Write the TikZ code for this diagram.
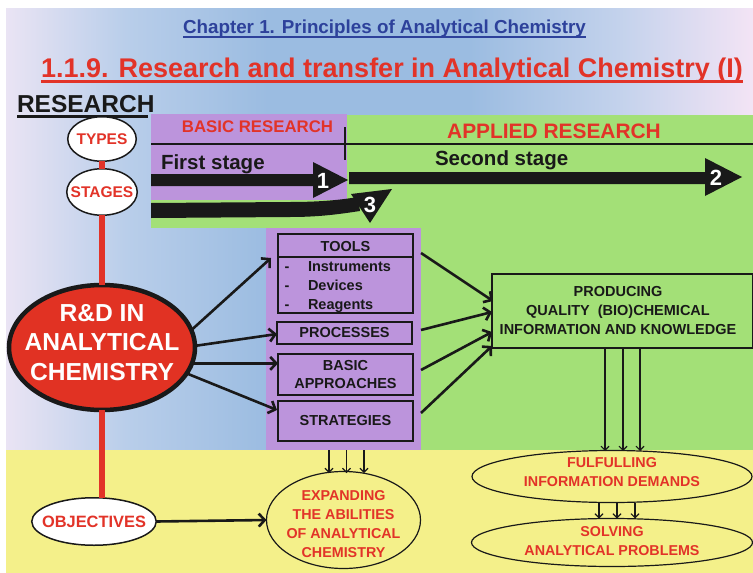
\documentclass[tikz,border=0pt]{standalone}
\usepackage{fontspec}
\setmainfont{Liberation Sans}
\usetikzlibrary{shapes.geometric,arrows.meta,calc}
\definecolor{myred}{RGB}{226,51,40}
\definecolor{rdred}{RGB}{225,50,35}
\definecolor{chapblue}{RGB}{45,65,155}
\definecolor{grn}{RGB}{163,224,119}
\definecolor{pur}{RGB}{188,148,220}
\definecolor{yel}{RGB}{244,240,138}
\definecolor{bgL}{RGB}{234,228,244}
\definecolor{bgA}{RGB}{185,206,234}
\definecolor{bgM}{RGB}{155,188,225}
\definecolor{bgB}{RGB}{195,210,236}
\definecolor{bgR}{RGB}{243,228,245}
\definecolor{ink}{RGB}{25,25,25}
\pgfdeclarehorizontalshading{bgshade}{100bp}{color(0bp)=(bgL); color(25bp)=(bgL); color(33bp)=(bgA); color(42.5bp)=(bgM); color(56bp)=(bgM); color(66bp)=(bgB); color(75bp)=(bgR); color(100bp)=(bgR)}
\begin{document}
\begin{tikzpicture}[x=1pt,y=-1pt,
  txt/.style={inner sep=0pt, outer sep=0pt},
  ell/.style={ellipse, draw=ink, inner sep=0pt, outer sep=0pt},
  ellred/.style={ell, line width=1.5pt, fill=white, text=myred, font=\bfseries\fontsize{15.5}{18}\selectfont},
  ellyel/.style={ell, line width=1.2pt, fill=yel},
  box/.style={rectangle, draw=ink, line width=1.3pt, inner sep=0pt, outer sep=0pt, align=center, text=ink, font=\bfseries\fontsize{14.5}{18}\selectfont},
  boxtxt/.style={txt, text=ink, font=\bfseries\fontsize{14.5}{19}\selectfont},
  redtxt/.style={txt, align=center, text=myred, font=\bfseries\fontsize{14.3}{19}\selectfont},
  numtxt/.style={txt, text=white, font=\bfseries\fontsize{22}{24}\selectfont},
  thickarr/.style={draw=ink, line width=2.6pt, -{Straight Barb[length=6pt,width=13pt]}},
  thinarr/.style={draw=ink, line width=1.1pt, -{Straight Barb[length=4pt,width=8pt]}},
  redline/.style={draw=myred, line width=6pt}
]
\useasboundingbox (0,0) rectangle (753,573);
\fill[white] (0,0) rectangle (753,573);
\shade[shading=bgshade] (6,8) rectangle (753,450);
\fill[yel] (6,450) rectangle (753,573);
\fill[grn] (151,115) rectangle (753,228);
\fill[grn] (347,115) rectangle (753,450);
\node[txt, fill=pur, minimum width=196pt, minimum height=86pt] (basicbg) at (249,157) {};
\node[txt, fill=pur, minimum width=155pt, minimum height=222pt] (toolsbg) at (343.5,339) {};
\draw[ink, line width=1.2pt] (151,144) -- (753,144);
\draw[ink, line width=1.2pt] (345,127) -- (345,160);

% titles
\node[txt, anchor=base, text=chapblue, font=\bfseries\fontsize{18.8}{22}\selectfont] (chap) at (384.5,33) {Chapter 1. Principles of Analytical Chemistry};
\draw[chapblue, line width=2pt] ($(chap.base west)+(0,3.5)$) -- ($(chap.base east)+(0,3.5)$);
\node[txt, anchor=base, text=myred, font=\bfseries\fontsize{27}{30}\selectfont] (title) at (392,77) {1.1.9. Research and transfer in Analytical Chemistry (I)};
\draw[myred, line width=2.5pt] ($(title.base west)+(0,4.5)$) -- ($(title.base east)+(0,4.5)$);
\node[txt, anchor=base west, text=ink, font=\bfseries\fontsize{24.5}{28}\selectfont] (research) at (17,112) {RESEARCH};
\draw[ink, line width=3pt] ($(research.base west)+(0,4.5)$) -- ($(research.base east)+(-6,4.5)$);

% stage labels
\node[txt, anchor=base, text=myred, font=\bfseries\fontsize{16.8}{20}\selectfont] (basiclbl) at (257.5,132) {BASIC RESEARCH};
\node[txt, anchor=base, text=myred, font=\bfseries\fontsize{20.9}{24}\selectfont] (appliedlbl) at (554,138) {APPLIED RESEARCH};
\node[txt, anchor=base west, text=ink, font=\bfseries\fontsize{20.5}{24}\selectfont] (first) at (161,169) {First stage};
\node[txt, anchor=base west, text=ink, font=\bfseries\fontsize{20.5}{24}\selectfont] (second) at (435,165) {Second stage};

% big arrows
\fill[ink] (151,174) -- (313,174) -- (313,162) -- (348,180) -- (313,198) -- (313,186) -- (151,186) -- cycle;
\fill[ink] (349,172) -- (705,172) -- (705,158) -- (742,177) -- (705,196) -- (705,184) -- (349,184) -- cycle;
\fill[ink] (151,203) -- (290,202) .. controls (320,202) and (340,200) .. (358,197) -- (360,211) .. controls (340,214) and (320,217) .. (290,217) -- (151,218) -- cycle;
\fill[ink] (351,194) -- (392,189) -- (370,223) -- cycle;
\node[numtxt] (n1) at (323,181) {1};
\node[numtxt] (n2) at (716,178) {2};
\node[numtxt] (n3) at (370,205) {3};

% left column
\node[ellred, minimum width=68.5pt, minimum height=44.5pt] (types) at (102,139) {\makebox[0pt]{TYPES}};
\node[ellred, minimum width=70.5pt, minimum height=46.5pt] (stages) at (102,192) {\makebox[0pt]{STAGES}};
\node[ell, line width=4.5pt, fill=rdred, minimum width=186pt, minimum height=125pt] (rd) at (102,347.5) {};
\node[txt, align=center, text=white, font=\bfseries\fontsize{24.6}{29.5}\selectfont] (rdtxt) at (102,342.5) {R\&D IN\\ANALYTICAL\\CHEMISTRY};
\node[ellred, minimum width=124.5pt, minimum height=47.5pt, font=\bfseries\fontsize{16.4}{19}\selectfont] (obj) at (94,521.5) {\makebox[0pt]{OBJECTIVES}};
\draw[redline] (types.south) -- (stages.north);
\draw[redline] (stages.south) -- (rd.north);
\draw[redline] (rd.south) -- (rd.south |- obj.north);

% tool boxes
\node[box, minimum width=135pt, minimum height=79pt] (tools) at (345.5,273.5) {};
\node[boxtxt] (toolst) at (345.5,246.5) {TOOLS};
\draw[ink, line width=1.3pt] ($(tools.north west)+(0,23)$) -- ($(tools.north east)+(0,23)$);
\node[boxtxt, anchor=base] (d1) at (287,271) {-};
\node[boxtxt, anchor=base] (d2) at (287,290) {-};
\node[boxtxt, anchor=base] (d3) at (287,309) {-};
\node[boxtxt, anchor=base west] (li1) at (308,271) {Instruments};
\node[boxtxt, anchor=base west] (li2) at (308,290) {Devices};
\node[boxtxt, anchor=base west] (li3) at (308,309) {Reagents};
\node[box, minimum width=135pt, minimum height=22pt] (proc) at (344.5,333) {PROCESSES};
\node[box, minimum width=135pt, minimum height=41pt] (basic) at (345.5,374.5) {BASIC\\APPROACHES};
\node[box, minimum width=135pt, minimum height=40pt] (strat) at (345.5,421) {STRATEGIES};

% producing
\node[box, minimum width=261pt, minimum height=74pt] (prod) at (622.5,311) {};
\node[boxtxt, align=center] (prodtxt) at (618,311) {PRODUCING\\QUALITY~~(BIO)CHEMICAL\\INFORMATION AND KNOWLEDGE};

% bottom ellipses
\node[ellyel, minimum width=154pt, minimum height=97pt] (expand) at (343.5,520) {};
\node[redtxt] (exptxt) at (343.5,524.5) {EXPANDING\\THE ABILITIES\\OF ANALYTICAL\\CHEMISTRY};
\node[ellyel, minimum width=280pt, minimum height=52pt] (fulfil) at (612,476.5) {};
\node[redtxt] (fultxt) at (612,472.5) {FULFULLING\\INFORMATION DEMANDS};
\node[ellyel, minimum width=281pt, minimum height=48pt] (solve) at (612,542.5) {};
\node[redtxt] (soltxt) at (612,541) {SOLVING\\ANALYTICAL PROBLEMS};

% arrows from R&D
\draw[thickarr] (rd.11) -- ($(tools.west)+(-7,-15.5)$);
\draw[thickarr] (rd.1) -- ($(proc.west)+(0,1)$);
\draw[thickarr] (rd.-10) -- (rd.-10 -| basic.west);
\draw[thickarr] (rd.-17) -- ($(strat.west)+(-1,-11)$);
% arrows to producing
\draw[thickarr] ($(tools.east)+(8,-20.5)$) -- ($(prod.west)+(1,-10)$);
\draw[thickarr] ($(proc.east)+(9,-3)$) -- ($(prod.west)+(0,1)$);
\draw[thickarr] ($(basic.east)+(8,-4.5)$) -- ($(prod.west)+(0,21)$);
\draw[thickarr] ($(strat.east)+(8,-8)$) -- ($(prod.west)+(0,35)$);
% objectives
\draw[thickarr] (obj.east) -- (expand.west);
% thin arrows
\foreach \dx in {-14.5,3,20.5}
  \draw[thinarr] ($(toolsbg.south)+(\dx,0)$) -- ($(expand.north)+(\dx,1.5)$);
\foreach \dx in {-17.5,0.5,17.5}
  \draw[thinarr] ($(prod.south)+(\dx,0)$) -- ($(prod.south)+(\dx,103)$);
\foreach \dx in {-13,5,23}
  \draw[thinarr] ($(fulfil.south)+(\dx,0)$) -- ($(fulfil.south)+(\dx,16)$);
\end{tikzpicture}
\end{document}
